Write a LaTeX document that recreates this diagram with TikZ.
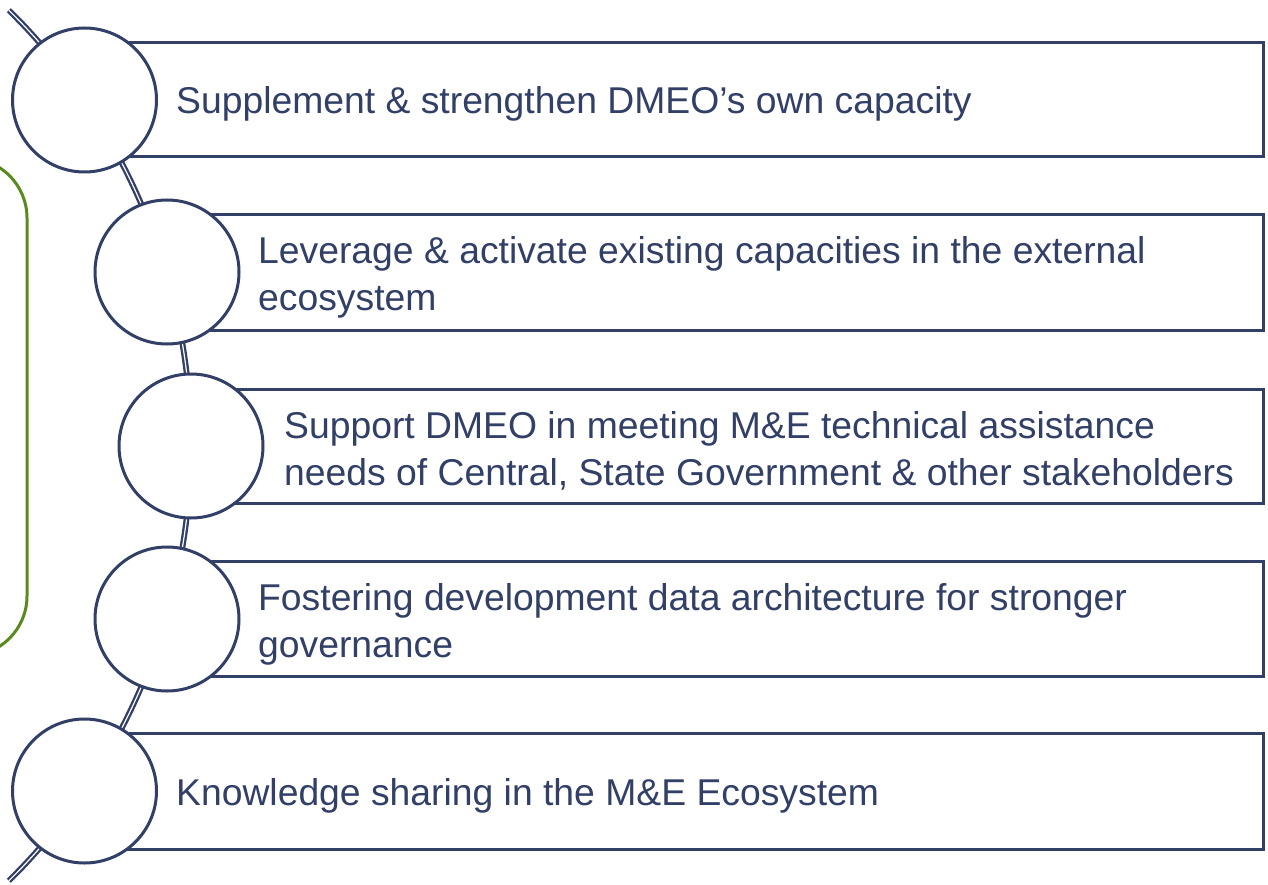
\documentclass[tikz,border=0pt]{standalone}
\usepackage{fontspec}
\setmainfont{Liberation Sans}
\definecolor{navy}{HTML}{323F66}
\definecolor{leaf}{HTML}{5A8A1E}
\begin{document}
\begin{tikzpicture}[x=1pt,y=-1pt,
  bar/.style={draw=navy, line width=3pt, fill=white},
  disc/.style={circle, draw=navy, line width=3pt, fill=white, minimum size=144pt, inner sep=0pt},
  label/.style={anchor=west, text=navy, align=left, inner sep=0pt, font=\fontsize{37.3}{47}\selectfont},
  spine/.style={draw=navy, line width=2.3pt, double=white, double distance=1.2pt}]
\useasboundingbox (0,0) rectangle (1268,885);
\clip (0,0) rectangle (1268,885);
% green rounded frame (partly off-page)
\draw[leaf, line width=3pt, rounded corners=60pt] (-120,158) rectangle (27,656);
% spine arc
\draw[spine, domain=-45.4:45.4, samples=80, smooth] plot ({-420.3+611.3*cos(\x)}, {445.5+611.3*sin(\x)});
% bars
\draw[bar] (84,43) rectangle (1263,157);
\draw[bar] (167,215) rectangle (1263,330);
\draw[bar] (191,389) rectangle (1263,503);
\draw[bar] (167,561) rectangle (1263,676);
\draw[bar] (84,733) rectangle (1263,849);
% discs
\node[disc] (c1) at (84.5,100) {};
\node[disc] (c2) at (167,272) {};
\node[disc] (c3) at (191,446) {};
\node[disc] (c4) at (167,619) {};
\node[disc] (c5) at (84.5,791) {};
% labels
\node[label] (t1) at (176,104) {Supplement \& strengthen DMEO’s own capacity};
\node[label] (t2) at (258,277) {Leverage \& activate existing capacities in the external\\ecosystem};
\node[label] (t3) at (284,451) {Support DMEO in meeting M\&E technical assistance\\needs of Central, State Government \& other stakeholders};
\node[label] (t4) at (258,624) {Fostering development data architecture for stronger\\governance};
\node[label] (t5) at (176,796) {Knowledge sharing in the M\&E Ecosystem};
\end{tikzpicture}
\end{document}
